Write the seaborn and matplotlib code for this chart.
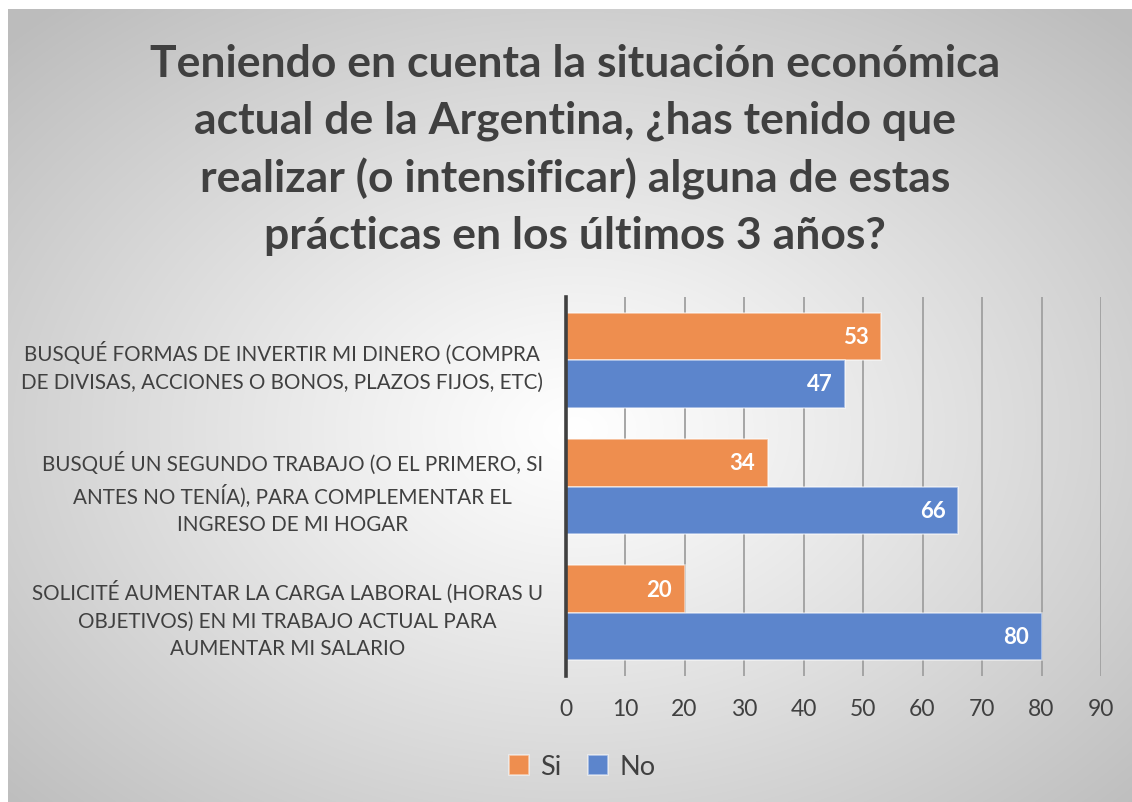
import numpy as np
import pandas as pd
import seaborn as sns
import matplotlib.pyplot as plt

# datos (porcentajes)
categorias = [
    "BUSQUÉ FORMAS DE INVERTIR MI DINERO (COMPRA\nDE DIVISAS, ACCIONES O BONOS, PLAZOS FIJOS, ETC)",
    "BUSQUÉ UN SEGUNDO TRABAJO (O EL PRIMERO, SI\nANTES NO TENÍA), PARA COMPLEMENTAR EL\nINGRESO DE MI HOGAR",
    "SOLICITÉ AUMENTAR LA CARGA LABORAL (HORAS U\nOBJETIVOS) EN MI TRABAJO ACTUAL PARA\nAUMENTAR MI SALARIO",
]
respuestas = ["Si", "No"]
valores_si = [53, 34, 20]
valores_no = [47, 66, 80]
ticks_x = [0, 10, 20, 30, 40, 50, 60, 70, 80, 90]

titulo = ("Teniendo en cuenta la situación económica\n"
          "actual de la Argentina, ¿has tenido que\n"
          "realizar (o intensificar) alguna de estas\n"
          "prácticas en los últimos 3 años?")

colores = ["#EE8E4F", "#5C85CC"]
gris_texto = "#404040"

# tabla larga para seaborn
df = pd.DataFrame({
    "categoria": categorias * 2,
    "respuesta": ["Si"] * 3 + ["No"] * 3,
    "valor": valores_si + valores_no,
})

sns.set_style("white")
plt.rcParams["font.family"] = ["Lato", "DejaVu Sans"]

W, H = 1132, 803
fig = plt.figure(figsize=(W / 100, H / 100), dpi=100)
fig.patch.set_facecolor("white")

# fondo con degradado radial (blanco al centro, gris en los bordes)
bg = fig.add_axes([0, 0, 1, 1], zorder=-10)
yy, xx = np.mgrid[10:H, 8:W]
r = np.sqrt(((xx - 575) / 560.0) ** 2 + ((yy - 430) / 400.0) ** 2)
g = 1 - 0.26 * np.clip(r / 1.4, 0, 1) ** 1.1
bg.imshow(np.dstack([g, g, g]), extent=(8, W, H, 10), aspect="auto")
bg.set_xlim(0, W)
bg.set_ylim(H, 0)
bg.axis("off")

ax = fig.add_axes([565.5 / W, 1 - 677 / H, (1101 - 565.5) / W, (677 - 298) / H])
ax.set_facecolor("none")

sns.barplot(data=df, y="categoria", x="valor", hue="respuesta",
            hue_order=respuestas, palette=colores, orient="h",
            width=0.75, saturation=1, edgecolor=(1, 1, 1, 0.55),
            linewidth=1.2, ax=ax, zorder=3)

ax.set_xlim(0, 90)
ax.set_xticks(ticks_x)
ax.xaxis.grid(True, color="#a0a0a0", linewidth=1.3)
ax.set_axisbelow(True)
ax.set_xlabel("")
ax.set_ylabel("")
for s in ["top", "right", "bottom"]:
    ax.spines[s].set_visible(False)
ax.spines["left"].set_color(gris_texto)
ax.spines["left"].set_linewidth(2.6)
ax.spines["left"].set_zorder(5)
ax.tick_params(axis="x", length=0, labelsize=16.5, labelcolor=gris_texto, pad=16)
ax.tick_params(axis="y", length=0, labelsize=14.9, labelcolor=gris_texto, pad=16)
for lbl in ax.get_yticklabels():
    lbl.set_multialignment("center")
    lbl.set_linespacing(1.5)

# etiquetas de valor dentro de las barras
for cont in ax.containers:
    txts = ax.bar_label(cont, padding=-9, color="white", fontsize=16,
                        fontweight="bold")
    for t in txts:
        t.set_ha("right")

sns.move_legend(ax, "center", bbox_to_anchor=(582 / W, 1 - 768 / H),
                bbox_transform=fig.transFigure, ncol=2, frameon=False,
                title=None, fontsize=19.5, handlelength=0.75, handleheight=0.75,
                handletextpad=0.4, columnspacing=1.0)
for t in ax.get_legend().get_texts():
    t.set_color(gris_texto)

fig.text(575 / W, 1 - 150 / H, titulo, ha="center", va="center",
         fontsize=32, fontweight="bold", color=gris_texto, linespacing=1.5)

fig.savefig("out.png", dpi=100)
